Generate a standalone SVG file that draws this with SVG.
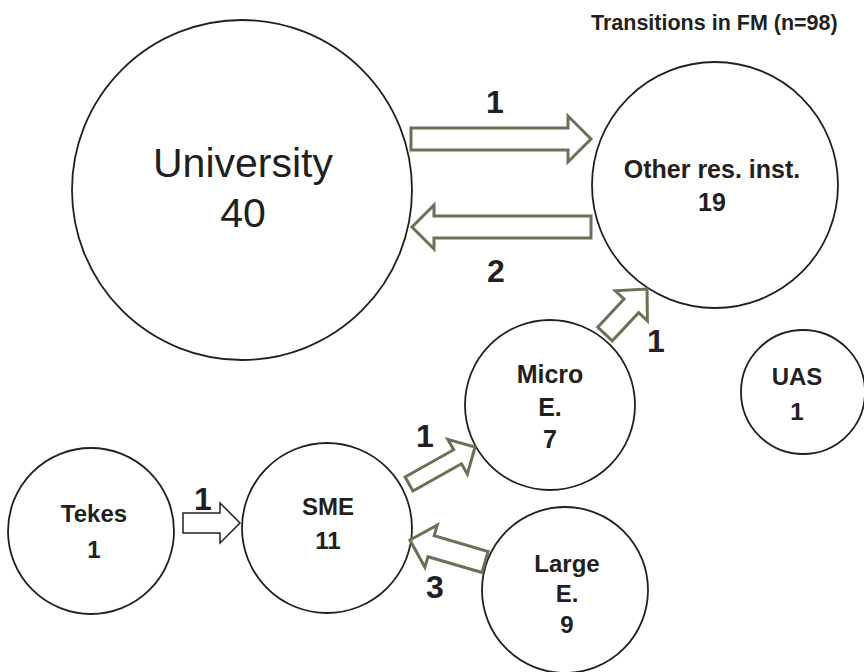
<svg xmlns="http://www.w3.org/2000/svg" width="864" height="672" viewBox="0 0 864 672">
<style>
.node{fill:#fff;stroke:#231f20;stroke-width:1.8}
.lbl{font-family:"Liberation Sans",Arial,sans-serif;font-weight:bold;font-size:24px;fill:#231f20;text-anchor:middle}
.big{font-family:"Liberation Sans",Arial,sans-serif;font-size:41px;fill:#231f20;text-anchor:middle}
.num{font-family:"Liberation Sans",Arial,sans-serif;font-weight:bold;font-size:32px;fill:#231f20;text-anchor:middle}
.arr{fill:#fff;stroke:#6f6f57;stroke-width:3;stroke-linejoin:miter}
.arrk{fill:#fff;stroke:#231f20;stroke-width:1.5}
</style>
<rect width="864" height="672" fill="#fff"/>
<text x="591" y="30" style="font-family:'Liberation Sans',Arial,sans-serif;font-weight:bold;font-size:21.5px;fill:#231f20">Transitions in FM (n=98)</text>

<g id="university">
<circle class="node" cx="242" cy="190" r="170"/>
<text class="big" x="243" y="177">University</text>
<text class="big" x="243" y="227">40</text>
</g>
<g id="other">
<circle class="node" cx="715" cy="185" r="123"/>
<text class="lbl" x="712" y="178" style="font-size:25px">Other res. inst.</text>
<text class="lbl" x="712" y="211" style="font-size:25px">19</text>
</g>
<g id="micro">
<circle class="node" cx="550" cy="405" r="85"/>
<text class="lbl" x="550" y="383" style="font-size:25px">Micro</text>
<text class="lbl" x="550" y="416" style="font-size:25px">E.</text>
<text class="lbl" x="550" y="448" style="font-size:25px">7</text>
</g>
<g id="uas">
<circle class="node" cx="803" cy="392" r="62"/>
<text class="lbl" x="797" y="385">UAS</text>
<text class="lbl" x="797" y="420">1</text>
</g>
<g id="tekes">
<circle class="node" cx="91" cy="531" r="83"/>
<text class="lbl" x="94" y="522">Tekes</text>
<text class="lbl" x="94" y="558">1</text>
</g>
<g id="sme">
<circle class="node" cx="327" cy="528" r="85"/>
<text class="lbl" x="328" y="515">SME</text>
<text class="lbl" x="328" y="549">11</text>
</g>
<g id="large">
<circle class="node" cx="565" cy="590" r="83"/>
<text class="lbl" x="567" y="572">Large</text>
<text class="lbl" x="567" y="602">E.</text>
<text class="lbl" x="567" y="633">9</text>
</g>

<g id="connectors">
<polygon class="arr" points="411,128 568,128 568,116 591,139 568,162 568,150 411,150"/>
<polygon class="arr" points="591,216 434,216 434,205 412,227 434,249 434,238 591,238"/>
<polygon class="arr" transform="translate(605,334) rotate(-46.97)" points="0,-10 38.6,-10 38.6,-22 61.6,0 38.6,22 38.6,10 0,10"/>
<polygon class="arr" transform="translate(409,484) rotate(-29.3)" points="0,-8 55.7,-8 55.7,-20 75.7,0 55.7,20 55.7,8 0,8"/>
<polygon class="arr" transform="translate(485,562) rotate(-163.65)" points="0,-11 56.2,-11 56.2,-22 78.2,0 56.2,22 56.2,11 0,11"/>
<polygon class="arrk" points="183,513 220,513 220,503 240,523 220,543 220,533 183,533"/>
<text class="num" x="495" y="113">1</text>
<text class="num" x="496" y="282">2</text>
<text class="num" x="656" y="352">1</text>
<text class="num" x="425" y="447">1</text>
<text class="num" x="435" y="598">3</text>
<text class="num" x="203" y="510">1</text>
</g>
</svg>
